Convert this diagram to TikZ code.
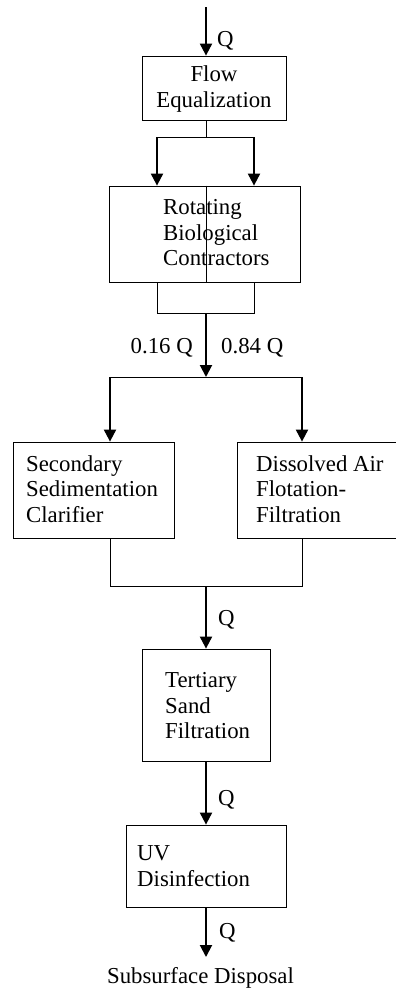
\documentclass[tikz,border=0pt]{standalone}
\usepackage{fontspec}
\setmainfont{Liberation Serif}
\usetikzlibrary{arrows.meta}
\begin{document}
\begin{tikzpicture}[x=1pt,y=-1pt,
  box/.style={draw, line width=0.8pt, inner sep=0pt},
  txt/.style={inner sep=0pt, align=left, font=\fontsize{22.8}{25.5}\selectfont},
  flowarrow/.style={line width=2pt, -{Triangle[length=12pt,width=12pt]}},
  pipe/.style={line width=0.8pt}]
\useasboundingbox (0,0) rectangle (396,989);
% boxes
\node[box, minimum width=144pt, minimum height=64pt] (flow) at (214,88) {};
\node[box, minimum width=191pt, minimum height=96pt] (rbc) at (204.5,234) {};
\node[box, minimum width=161pt, minimum height=96pt] (sec) at (93.5,490) {};
\node[box, minimum width=160pt, minimum height=96pt] (daf) at (317,490) {};
\node[box, minimum width=128pt, minimum height=112pt] (ter) at (206,705) {};
\node[box, minimum width=160pt, minimum height=82pt] (uv) at (206,866) {};
% box texts
\node[txt, align=center] (flowt) at (214,89) {Flow\\Equalization};
\node[txt, anchor=west] (rbct) at (163,233) {Rotating\\Biological\\Contractors};
\node[txt, anchor=west] (sect) at (26,489) {Secondary\\Sedimentation\\Clarifier};
\node[txt, anchor=west] (daft) at (256,489) {Dissolved Air\\Flotation-\\Filtration};
\node[txt, anchor=west] (tert) at (165,706) {Tertiary\\Sand\\Filtration};
\node[txt, anchor=west] (uvt) at (137,866) {UV\\Disinfection};
% inflow
\coordinate (in) at (206,7);
\draw[flowarrow] (in) -- (in |- flow.north);
\node[txt, anchor=west] (q1) at (217,41) {Q};
% split to RBC
\coordinate (s1) at (206,137);
\coordinate (s1l) at (157,137);
\coordinate (s1r) at (254,137);
\draw[pipe] (s1 |- flow.south) -- (s1);
\draw[pipe] (s1l) -- (s1r);
\draw[flowarrow] (s1l) -- (s1l |- rbc.north);
\draw[flowarrow] (s1r) -- (s1r |- rbc.north);
\draw[pipe] (s1 |- rbc.north) -- (s1 |- rbc.south);
% join after RBC
\coordinate (j1) at (206,313);
\coordinate (j1l) at (157,313);
\coordinate (j1r) at (254,313);
\draw[pipe] (j1l |- rbc.south) -- (j1l) -- (j1r) -- (j1r |- rbc.south);
\coordinate (s2) at (206,377);
\draw[flowarrow] (j1) -- (s2);
\node[txt, anchor=east] (q2) at (193,348) {0.16 Q};
\node[txt, anchor=west] (q3) at (221,348) {0.84 Q};
% split to secondary / DAF
\coordinate (s2l) at (110,377);
\coordinate (s2r) at (302,377);
\draw[pipe] (s2l) -- (s2r);
\draw[flowarrow] (s2l) -- (s2l |- sec.north);
\draw[flowarrow] (s2r) -- (s2r |- daf.north);
% join after secondary / DAF
\coordinate (j2) at (206,586);
\coordinate (j2l) at (110,586);
\coordinate (j2r) at (302,586);
\draw[pipe] (j2l |- sec.south) -- (j2l) -- (j2r) -- (j2r |- daf.south);
\draw[flowarrow] (j2) -- (j2 |- ter.north);
\node[txt, anchor=west] (q4) at (218,620) {Q};
% tertiary to UV
\draw[flowarrow] (ter.south) -- (ter.south |- uv.north);
\node[txt, anchor=west] (q5) at (218,800) {Q};
% outflow
\coordinate (out) at (206,957);
\draw[flowarrow] (uv.south) -- (out);
\node[txt, anchor=west] (q6) at (219,933) {Q};
\node[txt] (disp) at (200.5,978) {Subsurface Disposal};
\end{tikzpicture}
\end{document}
